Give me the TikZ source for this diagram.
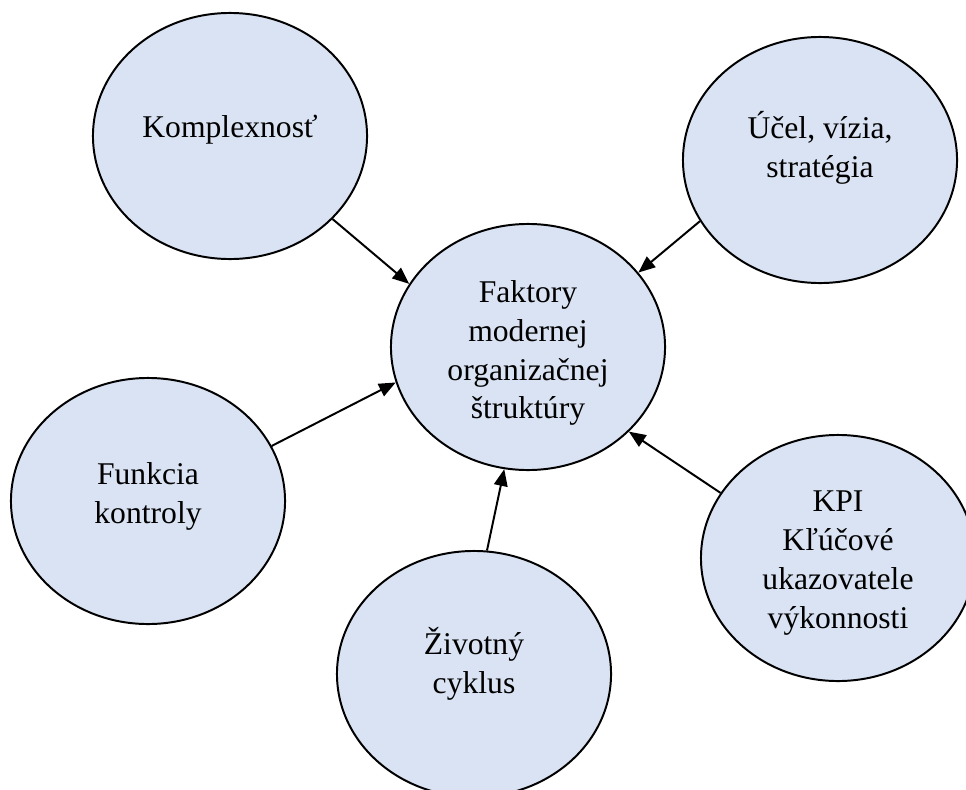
\documentclass[tikz,border=0pt]{standalone}
\usepackage{fontspec}
\setmainfont{Liberation Serif}
\usetikzlibrary{shapes.geometric, arrows.meta}
\definecolor{bFill}{RGB}{218,227,243}

\begin{document}
\begin{tikzpicture}[x=0.025cm, y=-0.025cm, font=\fontsize{22.5}{27.7}\selectfont,
  bubble/.style={ellipse, draw, line width=1.4pt, fill=bFill,
    minimum width=6.85cm, minimum height=6.15cm, inner sep=0pt},
  txt/.style={align=center, inner sep=0pt},
  arrow/.style={line width=1.4pt, -{Triangle[length=0.42cm, width=0.34cm]}}]

  \clip (0,0) rectangle (966,789);

  % Factor bubbles
  \node[bubble] (fak) at (528,347) {};
  \node[bubble] (kom) at (230,136) {};
  \node[bubble] (uce) at (820,160) {};
  \node[bubble] (fun) at (148,501) {};
  \node[bubble] (kpi) at (838,558) {};
  \node[bubble] (ziv) at (474,674) {};

  % Texts, a little above the centre as in Word
  \node[txt] (fakT) at ([yshift=-0.15cm]fak.center) {Faktory\\modernej\\organizačnej\\štruktúry};
  \node[txt] (komT) at ([yshift=0.15cm]kom.center) {Komplexnosť};
  \node[txt] (uceT) at ([yshift=0.3cm]uce.center) {Účel, vízia,\\stratégia};
  \node[txt] (funT) at ([yshift=0.125cm]fun.center) {Funkcia\\kontroly};
  \node[txt] (kpiT) at ([yshift=-0.125cm]kpi.center) {KPI\\Kľúčové\\ukazovatele\\výkonnosti};
  \node[txt] (zivT) at ([yshift=0.25cm]ziv.center) {Životný\\cyklus};

  % Arrows into the centre
  \foreach \src/\a/\b in {kom/-39/152, uce/207/34, fun/24/195, kpi/151/-40, ziv/84/259} {
    \draw[arrow] (\src.\a) -- (fak.\b);
  }

\end{tikzpicture}
\end{document}
